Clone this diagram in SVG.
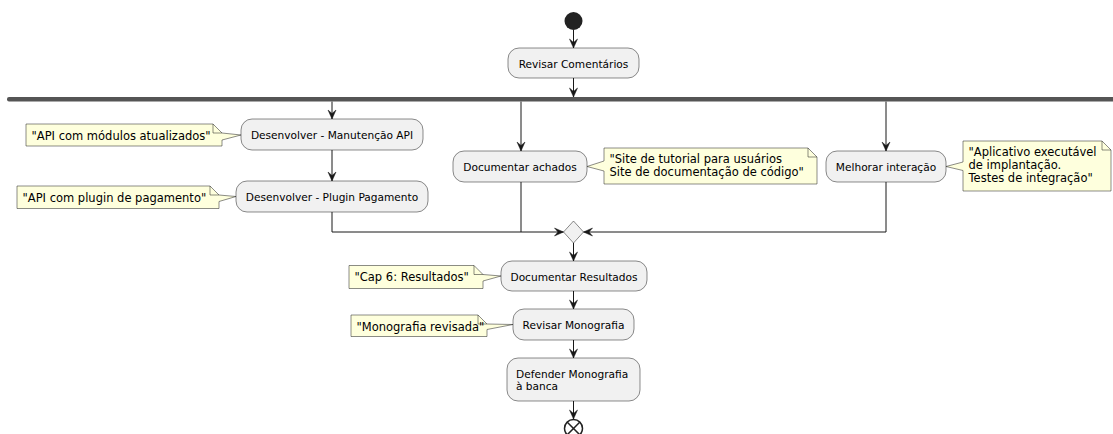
<svg xmlns="http://www.w3.org/2000/svg" width="1113" height="434" viewBox="0 0 1113 434">
  <style>
    .act { fill: #F1F1F1; stroke: #181818; stroke-width: 0.5; }
    .note { fill: #FEFFDD; stroke: #181818; stroke-width: 0.5; }
    .fold { fill: none; stroke: #181818; stroke-width: 0.5; }
    .t { font-family: "DejaVu Sans", sans-serif; font-size: 10.6px; fill: #000; }
    .nt { font-family: "DejaVu Sans", sans-serif; font-size: 11.5px; fill: #000; }
    .c { text-anchor: middle; }
    .ln { fill: none; stroke: #181818; stroke-width: 1; }
    .arr { fill: none; stroke: #181818; stroke-width: 1; marker-end: url(#ah); }
  </style>
  <defs>
    <marker id="ah" viewBox="-10 -5 11 10" refX="0" refY="0" markerWidth="11" markerHeight="10" markerUnits="userSpaceOnUse" orient="auto">
      <path d="M0,0 L-9,-4 L-5.5,0 L-9,4 Z" fill="#181818" stroke="#181818" stroke-width="0.5"/>
    </marker>
  </defs>
  <rect width="1113" height="434" fill="#FFFFFF"/>

  <!-- connectors -->
  <g id="connectors">
    <line class="arr" x1="573.5" y1="30" x2="573.5" y2="48"/>
    <line class="arr" x1="573.5" y1="78" x2="573.5" y2="97"/>
    <line class="arr" x1="332" y1="101.5" x2="332" y2="119"/>
    <line class="arr" x1="332" y1="150" x2="332" y2="181"/>
    <polyline class="arr" points="332,212 332,232 563.5,232"/>
    <line class="arr" x1="521" y1="101.5" x2="521" y2="151"/>
    <line class="ln" x1="521" y1="182" x2="521" y2="232"/>
    <line class="arr" x1="886" y1="101.5" x2="886" y2="151"/>
    <polyline class="arr" points="886,182 886,232 583.5,232"/>
    <line class="arr" x1="573.5" y1="243" x2="573.5" y2="261"/>
    <line class="arr" x1="573.5" y1="291" x2="573.5" y2="309"/>
    <line class="arr" x1="573.5" y1="340" x2="573.5" y2="358"/>
    <line class="arr" x1="573.5" y1="401" x2="573.5" y2="419"/>
  </g>

  <!-- start -->
  <g id="start">
    <circle cx="573.5" cy="21" r="9" fill="#222222"/>
  </g>

  <g id="revisar-comentarios">
    <rect class="act" x="508" y="48" width="131" height="30" rx="11"/>
    <text class="t c" x="573.5" y="67.5">Revisar Comentários</text>
  </g>

  <!-- fork bar -->
  <g id="fork">
    <rect x="7" y="97" width="1120" height="4.5" rx="2" fill="#555555"/>
  </g>

  <g id="manutencao-api">
    <rect class="act" x="241" y="119" width="182" height="31" rx="11"/>
    <text class="t c" x="332" y="138.5">Desenvolver - Manutenção API</text>
  </g>
  <g id="note-manutencao">
    <path class="note" d="M26,124 L213,124 L222,133 L241,135 L222,140 L222,146 L26,146 Z"/>
    <path class="fold" d="M213,124 L213,133 L222,133"/>
    <text class="nt" x="31.5" y="139.5">"API com módulos atualizados"</text>
  </g>

  <g id="plugin-pagamento">
    <rect class="act" x="236" y="181" width="192" height="31" rx="11"/>
    <text class="t c" x="332" y="200.5">Desenvolver - Plugin Pagamento</text>
  </g>
  <g id="note-plugin">
    <path class="note" d="M17,186 L210,186 L219,195 L236,196.5 L219,201.5 L219,208.5 L17,208.5 Z"/>
    <path class="fold" d="M210,186 L210,195 L219,195"/>
    <text class="nt" x="22.5" y="201.5">"API com plugin de pagamento"</text>
  </g>

  <g id="documentar-achados">
    <rect class="act" x="453" y="151" width="134" height="31" rx="11"/>
    <text class="t c" x="520" y="170.5">Documentar achados</text>
  </g>
  <g id="note-achados">
    <path class="note" d="M604,148 L808,148 L817,157 L817,184 L604,184 L604,171 L587,166.5 L604,161 Z"/>
    <path class="fold" d="M808,148 L808,157 L817,157"/>
    <text class="nt" x="609.5" y="162.8">"Site de tutorial para usuários</text>
    <text class="nt" x="609.5" y="176.1">Site de documentação de código"</text>
  </g>

  <g id="melhorar-interacao">
    <rect class="act" x="826" y="151" width="120" height="31" rx="11"/>
    <text class="t c" x="886" y="170.5">Melhorar interação</text>
  </g>
  <g id="note-interacao">
    <path class="note" d="M963,141 L1102,141 L1111,150 L1111,191 L963,191 L963,170.5 L946,166.5 L963,162 Z"/>
    <path class="fold" d="M1102,141 L1102,150 L1111,150"/>
    <text class="nt" x="968.5" y="155.8">"Aplicativo executável</text>
    <text class="nt" x="968.5" y="169.1">de implantação.</text>
    <text class="nt" x="968.5" y="182.4">Testes de integração"</text>
  </g>

  <!-- merge -->
  <g id="merge">
    <polygon class="act" points="573.5,221 583.5,232 573.5,243 563.5,232"/>
  </g>

  <g id="documentar-resultados">
    <rect class="act" x="501" y="261" width="146" height="30" rx="11"/>
    <text class="t c" x="574" y="280.5">Documentar Resultados</text>
  </g>
  <g id="note-resultados">
    <path class="note" d="M349,265.5 L474,265.5 L483,274.5 L501,276 L483,281 L483,288.5 L349,288.5 Z"/>
    <path class="fold" d="M474,265.5 L474,274.5 L483,274.5"/>
    <text class="nt" x="354.5" y="281">"Cap 6: Resultados"</text>
  </g>

  <g id="revisar-monografia">
    <rect class="act" x="513" y="309" width="121" height="31" rx="11"/>
    <text class="t c" x="573.5" y="328.5">Revisar Monografia</text>
  </g>
  <g id="note-monografia">
    <path class="note" d="M351,315 L478,315 L487,324 L513,324.5 L487,329.5 L487,336.5 L351,336.5 Z"/>
    <path class="fold" d="M478,315 L478,324 L487,324"/>
    <text class="nt" x="356.5" y="330.5">"Monografia revisada"</text>
  </g>

  <g id="defender-monografia">
    <rect class="act" x="507" y="358" width="133" height="43" rx="11"/>
    <text class="t" x="516" y="377.5">Defender Monografia</text>
    <text class="t" x="516" y="390">à banca</text>
  </g>

  <!-- end -->
  <g id="end">
    <circle cx="573.5" cy="428.5" r="9" fill="#FFFFFF" stroke="#222222" stroke-width="1.5"/>
    <path d="M567.3,422.3 L579.7,434.7 M579.7,422.3 L567.3,434.7" stroke="#222222" stroke-width="1.5"/>
  </g>
</svg>
